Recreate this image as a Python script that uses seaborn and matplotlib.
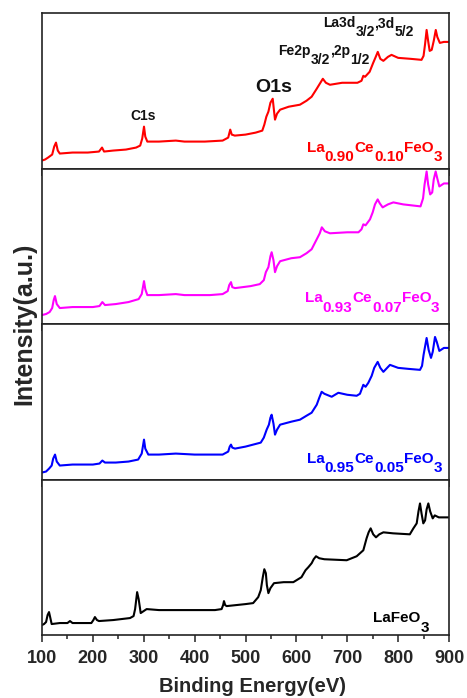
# -*- coding: utf-8 -*-
# XPS survey spectra of La(1-x)Ce(x)FeO3, four stacked panels

import matplotlib
matplotlib.use("Agg")
import pandas as pd
import matplotlib.pyplot as plt
import seaborn as sns
from matplotlib.ticker import MultipleLocator

# ---------------- data ----------------
energy_ce10 = [100, 106, 112, 120, 124, 127.5, 131, 135, 160, 190, 212, 218, 222, 240, 265, 285,
               293, 297, 300.5, 303, 307, 330, 363, 380, 420, 455, 466, 470, 473, 479, 500, 520,
               533, 537, 541, 545, 549, 553.5, 556, 558, 562, 568, 585, 607, 620, 630, 640, 646,
               652, 658, 666, 690, 720, 728, 731.6, 735, 744, 751, 756, 760, 765, 771, 780, 787,
               800, 825, 846, 850, 853, 856, 859, 862, 866, 870, 874, 877, 882, 890, 900]
int_ce10 = [8, 9, 11, 14, 22, 26, 18, 15, 16, 16, 17, 21, 17, 18, 19, 21,
            23, 30, 42, 32, 27, 27, 28, 27, 27, 28, 31, 39, 34, 33, 34, 36,
            38, 44, 52, 57, 66, 70, 58, 49, 55, 59, 62, 64, 68, 72, 80, 85,
            90, 86, 84, 86, 86, 88, 93, 92, 97, 106, 112, 117, 110, 108, 112, 114,
            111, 110, 109, 113, 125, 139, 128, 118, 119, 128, 139, 132, 126, 127, 127]

energy_ce07 = [100, 108, 115, 120, 123, 125.5, 129, 135, 160, 200, 213, 218.6, 223.8, 245, 270, 290,
               296, 300.5, 303, 307, 330, 363, 380, 430, 455, 465, 468, 471.5, 474, 479.4, 510, 528,
               536, 540, 545, 549, 551.4, 555, 558, 562, 568, 590, 607, 620, 630, 640, 646, 650,
               656, 666, 700, 722, 728, 731.6, 736, 744.7, 750, 754.5, 759.8, 764, 769.6, 780, 790.6,
               810, 844, 849, 852, 856, 859, 863, 867, 870, 873.8, 877, 881, 890, 900]
int_ce07 = [9, 10, 12, 16, 24, 28, 20, 16, 17, 17, 18, 22, 19, 20, 22, 25,
            30, 43, 35, 29, 29, 30, 29, 29, 30, 33, 39, 42, 37, 36, 38, 40,
            44, 52, 57, 68, 72, 64, 52, 58, 63, 66, 67, 71, 75, 85, 91, 97,
            93, 91, 92, 92, 95, 100, 99, 105, 112, 120, 125, 121, 117, 120, 122,
            120, 118, 126, 140, 153, 140, 130, 132, 145, 153, 146, 138, 141, 141]

energy_ce05 = [100, 108, 114, 119, 122, 125.6, 129, 135, 160, 200, 213, 218.6, 223.8, 245, 270, 289,
               296, 300.5, 303, 309, 330, 363, 400, 455, 466, 469, 471.5, 474, 479.4, 500, 515, 530,
               536, 541.6, 546, 549, 551.4, 555, 558, 562, 568, 590, 607, 620, 630, 640, 645, 649.7,
               655, 669.4, 682.5, 700, 718.5, 725, 731.6, 736, 741.4, 748, 753, 759.8, 765, 771, 784,
               800, 820, 843, 847, 850, 856, 860, 864.6, 868, 872.5, 876, 881, 890, 900]
int_ce05 = [7, 8, 11, 14, 21, 25, 18, 14, 15, 15, 16, 19, 17, 17, 18, 20,
            26, 40, 31, 25, 25, 26, 25, 25, 28, 33, 35, 32, 31, 33, 35, 37,
            42, 50, 55, 62, 65, 56, 45, 50, 55, 58, 60, 64, 67, 75, 82, 88,
            86, 83, 87, 85, 84, 86, 95, 93, 97, 104, 112, 118, 112, 108, 115,
            112, 111, 110, 114, 125, 142, 130, 122, 128, 143, 138, 129, 132, 132]

energy_lafeo3 = [100, 104, 108, 111, 113.8, 116, 119, 135, 150, 155, 160, 197, 201, 204, 208, 212,
                 240, 273, 280, 283, 287, 290, 294, 305.7, 330, 380, 440, 453, 456, 457.7, 460, 463,
                 500, 515, 525, 530, 534, 537, 540, 542, 545, 549, 556, 575, 594, 610, 618, 623.5,
                 630, 634, 638.6, 645, 655, 698.9, 718.5, 731.6, 738, 742, 746, 751, 756.5, 763, 771,
                 790, 823, 830, 836.5, 840, 843, 846, 849.5, 853, 856, 859.4, 863, 868, 872, 880, 900]
int_lafeo3 = [10, 11, 13, 20, 23, 18, 11, 12, 12, 14, 12, 12, 15, 18, 15, 14,
              15, 17, 19, 26, 43, 36, 22, 26, 25, 25, 25, 26, 30, 34, 30, 29,
              31, 32, 38, 45, 58, 66, 62, 50, 42, 47, 52, 53, 53, 58, 65, 68,
              72, 76, 79, 77, 76, 75, 79, 85, 97, 103, 107, 101, 98, 101, 103,
              102, 101, 107, 112, 124, 132, 122, 112, 115, 126, 132, 124, 117, 120, 118, 118]

x_ticks = [100, 200, 300, 400, 500, 600, 700, 800, 900]

# label pieces: (text, is_subscript)
label_ce10 = [("La", False), ("0.90", True), ("Ce", False), ("0.10", True), ("FeO", False), ("3", True)]
label_ce07 = [("La", False), ("0.93", True), ("Ce", False), ("0.07", True), ("FeO", False), ("3", True)]
label_ce05 = [("La", False), ("0.95", True), ("Ce", False), ("0.05", True), ("FeO", False), ("3", True)]
label_lafeo3 = [("LaFeO", False), ("3", True)]
label_fe2p = [("Fe2p", False), ("3/2", True), (",2p", False), ("1/2", True)]
label_la3d = [("La3d", False), ("3/2", True), (",3d", False), ("5/2", True)]

sns.set_theme(style="ticks")
plt.rcParams["font.family"] = ["Liberation Sans", "DejaVu Sans"]
plt.rcParams["font.weight"] = "bold"


def chem_text(ax, x, y, parts, color, size, drop):
    """chained text pieces, subscripts as full size lowered text"""
    prev = None
    prev_sub = False
    for s, sub in parts:
        if prev is None:
            prev = ax.text(x, y, s, transform=ax.transAxes, color=color, fontsize=size,
                           fontweight="bold", ha="left", va="bottom")
        else:
            dy = 0
            if sub and not prev_sub:
                dy = -drop
            elif prev_sub and not sub:
                dy = drop
            prev = ax.annotate(s, xy=(1, 0), xycoords=prev, xytext=(0, dy),
                               textcoords="offset points", color=color, fontsize=size,
                               fontweight="bold", ha="left", va="bottom")
        prev_sub = sub


panels = [
    (energy_ce10, int_ce10, "#FF0000", label_ce10, (0.651, 0.09)),
    (energy_ce07, int_ce07, "#FF00FF", label_ce07, (0.646, 0.12)),
    (energy_ce05, int_ce05, "#0000FF", label_ce05, (0.651, 0.09)),
    (energy_lafeo3, int_lafeo3, "#000000", label_lafeo3, (0.813, 0.065)),
]

fig, axes = plt.subplots(4, 1, figsize=(4.67, 6.98), dpi=100, sharex=True)
fig.subplots_adjust(left=42 / 467, right=449 / 467, top=1 - 13 / 698, bottom=1 - 635 / 698, hspace=0)

for ax, (e, inten, color, lab, pos) in zip(axes, panels):
    df = pd.DataFrame({"energy": e, "intensity": inten})
    sns.lineplot(data=df, x="energy", y="intensity", color=color, linewidth=1.5,
                 estimator=None, ax=ax)
    ax.set_xlim(100, 900)
    ax.set_ylim(0, 156)
    ax.set_yticks([])
    ax.set_xlabel("")
    ax.set_ylabel("")
    ax.set_xticks(x_ticks)
    ax.xaxis.set_minor_locator(MultipleLocator(50))
    ax.tick_params(axis="x", which="major", direction="out", length=5, width=1.1,
                   color="#222222", labelsize=13, pad=6)
    ax.tick_params(axis="x", which="minor", direction="out", length=3, width=1.1, color="#222222")
    for sp in ax.spines.values():
        sp.set_linewidth(1.2)
        sp.set_color("#222222")
    chem_text(ax, pos[0], pos[1], lab, color, 11, 7)

for lbl in axes[-1].get_xticklabels():
    lbl.set_fontweight("bold")

# peak annotations on the top panel
top = axes[0]
top.text(298, 0.314, "C1s", transform=top.get_xaxis_transform(), fontsize=10,
         fontweight="bold", ha="center", va="baseline", color="#111111")
top.text(556, 0.49, "O1s", transform=top.get_xaxis_transform(), fontsize=14,
         fontweight="bold", ha="center", va="baseline", color="#111111")
chem_text(top, 0.58, 0.71, label_fe2p, "#111111", 10, 6.5)
chem_text(top, 0.69, 0.89, label_la3d, "#111111", 10, 6.5)

axes[-1].set_xlabel("Binding Energy(eV)", fontsize=14.5, fontweight="bold")
axes[-1].xaxis.set_label_coords(0.518, -0.27)
fig.text(24 / 467, 1 - 324 / 698, "Intensity(a.u.)", rotation=90, fontsize=18,
         fontweight="bold", ha="center", va="center")

fig.savefig("out.png", dpi=100)
